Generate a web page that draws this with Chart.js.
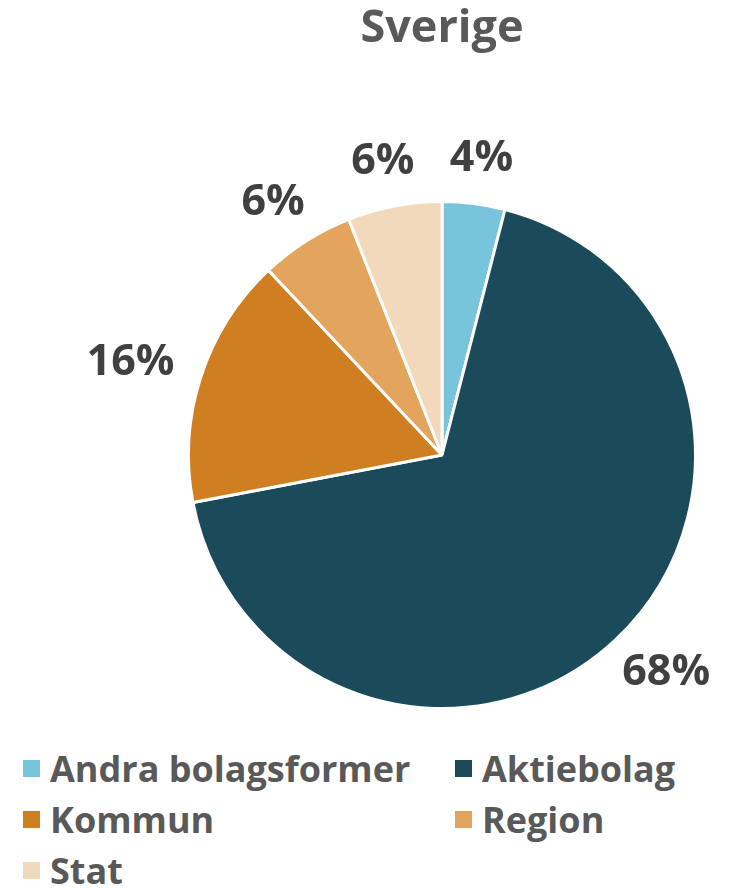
<!DOCTYPE html>
<html>
<head>
<meta charset="utf-8">
<script src="https://cdn.jsdelivr.net/npm/chart.js@4"></script>
<style>
  html, body { margin: 0; padding: 0; background: #fff; }
  body { width: 736px; height: 888px; overflow: hidden; font-family: "Open Sans", Lato, sans-serif; }
  #wrap { position: relative; width: 736px; height: 745px; }
  .legend { display: grid; grid-template-columns: 432px 280px; margin-left: 23px; margin-top: 0px; row-gap: 5px; }
  .legend div { display: flex; align-items: center; height: 46px; font-size: 36px; font-weight: bold; color: #595959; white-space: nowrap; }
  .legend span { display: inline-block; width: 17px; height: 17px; margin-right: 10px; }
</style>
</head>
<body>
<div id="wrap"><canvas id="myChart" width="736" height="745"></canvas></div>
<div class="legend" id="legend"></div>
<script>
const title = "Sverige"
const labels = ["Andra bolagsformer", "Aktiebolag", "Kommun", "Region", "Stat"]
const values = [4, 68, 16, 6, 6]
const colors = ["#77c4dc", "#1b4a5a", "#cf7f22", "#e3a55e", "#f3d9bc"]

// labels outside each slice, placed from the arc geometry
const outsideLabels = {
  id: "outsideLabels",
  afterDatasetsDraw(chart) {
    const ctx = chart.ctx
    const meta = chart.getDatasetMeta(0)
    const total = values.reduce((a, b) => a + b, 0)
    ctx.save()
    ctx.font = "bold 43px 'Open Sans', Lato, sans-serif"
    ctx.fillStyle = "#404040"
    ctx.textAlign = "center"
    ctx.textBaseline = "middle"
    meta.data.forEach(function(arc, i) {
      const p = arc.getProps(["x", "y", "startAngle", "endAngle", "outerRadius"], true)
      const mid = (p.startAngle + p.endAngle) / 2
      const ux = Math.cos(mid), uy = Math.sin(mid)
      const text = Math.round(values[i] / total * 100) + "%"
      const w = ctx.measureText(text).width
      const h = 30
      const r = p.outerRadius + 30
      ctx.fillText(text, p.x + ux * r + ux * w / 2, p.y + uy * r + uy * h / 2)
    })
    ctx.restore()
  }
}

const ctx = document.getElementById("myChart")
const myChart = new Chart(ctx, {
  type: "pie",
  data: {
    labels: labels,
    datasets: [{
      data: values,
      backgroundColor: colors,
      borderColor: "#ffffff",
      borderWidth: 3
    }]
  },
  options: {
    responsive: false,
    animation: false,
    layout: { padding: { left: 187, right: 39, top: 0, bottom: 35 } },
    plugins: {
      legend: { display: false },
      tooltip: { enabled: false },
      title: {
        display: true,
        text: title,
        color: "#595959",
        font: { family: "'Open Sans', Lato, sans-serif", size: 45, weight: "bold" },
        padding: { top: 2, bottom: 144 }
      }
    }
  },
  plugins: [outsideLabels]
})

const legend = document.getElementById("legend")
labels.forEach(function(name, i) {
  const item = document.createElement("div")
  item.innerHTML = '<span style="background:' + colors[i] + '"></span>' + name
  legend.appendChild(item)
})
</script>
</body>
</html>
